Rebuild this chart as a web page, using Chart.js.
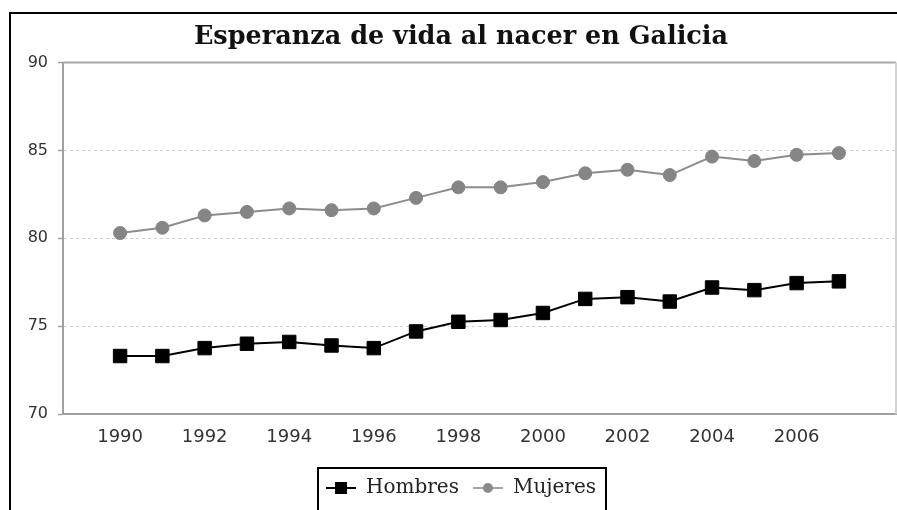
<!DOCTYPE html>
<html lang="es">
<head>
  <meta charset="UTF-8">
  <title>Esperanza de vida al nacer en Galicia</title>
  <script src="https://cdn.jsdelivr.net/npm/chart.js"></script>
  <style>
    html, body {
      margin: 0;
      padding: 0;
      background: #fff;
      overflow: hidden;
    }

    .frame {
      position: absolute;
      left: 9px;
      top: 12px;
      width: 900px;
      height: 506px;
      border: 2px solid #000;
      background: #fff;
    }
  </style>
</head>
<body>

  <div class="frame">
    <canvas id="lifeChart" width="900" height="506"></canvas>
  </div>

  <script>
    const years = [1990, 1991, 1992, 1993, 1994, 1995, 1996, 1997, 1998,
                   1999, 2000, 2001, 2002, 2003, 2004, 2005, 2006, 2007];
    const hombres = [73.3, 73.3, 73.75, 74.0, 74.1, 73.9, 73.75, 74.7, 75.25,
                     75.35, 75.75, 76.55, 76.65, 76.4, 77.2, 77.05, 77.45, 77.55];
    const mujeres = [80.3, 80.6, 81.3, 81.5, 81.7, 81.6, 81.7, 82.3, 82.9,
                     82.9, 83.2, 83.7, 83.9, 83.6, 84.65, 84.4, 84.75, 84.85];
    const xTicks = [1990, 1992, 1994, 1996, 1998, 2000, 2002, 2004, 2006];
    const yTicks = [70, 75, 80, 85, 90];

    // marcadores de la leyenda: línea + símbolo
    function legendMarker(color, lineWidth, shape) {
      const c = document.createElement('canvas');
      c.width = 30;
      c.height = 14;
      const g = c.getContext('2d');
      g.strokeStyle = color;
      g.fillStyle = color;
      g.lineWidth = lineWidth;
      g.beginPath();
      g.moveTo(0, 7);
      g.lineTo(30, 7);
      g.stroke();
      if (shape === 'rect') {
        g.fillRect(9, 1, 12, 12);
      } else {
        g.beginPath();
        g.arc(15, 7, 5, 0, Math.PI * 2);
        g.fill();
      }
      return c;
    }
    const markers = [legendMarker('#000', 2, 'rect'), legendMarker('#8a8a8a', 1.5, 'circle')];

    // borde superior y derecho del área de trazado
    const plotFrame = {
      id: 'plotFrame',
      beforeDatasetsDraw(chart) {
        const { ctx, chartArea: a } = chart;
        ctx.save();
        ctx.lineWidth = 2;
        ctx.strokeStyle = '#a8a8a8';
        ctx.beginPath();
        ctx.moveTo(a.left, a.top);
        ctx.lineTo(a.right, a.top);
        ctx.stroke();
        ctx.strokeStyle = '#d2d2d2';
        ctx.beginPath();
        ctx.moveTo(a.right, a.top);
        ctx.lineTo(a.right, a.bottom);
        ctx.stroke();
        ctx.restore();
      }
    };

    // recuadro negro alrededor de la leyenda (cortado por abajo, como el original)
    const legendFrame = {
      id: 'legendFrame',
      afterDraw(chart) {
        const hb = chart.legend.legendHitBoxes;
        if (!hb || !hb.length) return;
        const left = Math.min(...hb.map(h => h.left)) - 8;
        const right = Math.max(...hb.map(h => h.left + h.width)) + 10;
        const top = hb[0].top - 10;
        const ctx = chart.ctx;
        ctx.save();
        ctx.lineWidth = 2;
        ctx.strokeStyle = '#000';
        ctx.strokeRect(left, top, right - left, chart.height + 20 - top);
        ctx.restore();
      }
    };

    const ctx = document.getElementById('lifeChart').getContext('2d');

    new Chart(ctx, {
      type: 'line',
      data: {
        datasets: [{
          label: 'Hombres',
          data: years.map((y, i) => ({ x: y, y: hombres[i] })),
          borderColor: '#000',
          borderWidth: 2,
          pointStyle: 'rect',
          pointRadius: 9.5,
          pointBackgroundColor: '#000',
          pointBorderColor: '#000',
          pointBorderWidth: 1,
          tension: 0
        }, {
          label: 'Mujeres',
          data: years.map((y, i) => ({ x: y, y: mujeres[i] })),
          borderColor: '#8c8c8c',
          borderWidth: 2,
          pointStyle: 'circle',
          pointRadius: 6.5,
          pointBackgroundColor: '#858585',
          pointBorderColor: '#858585',
          pointBorderWidth: 1,
          tension: 0
        }]
      },
      options: {
        responsive: false,
        animation: false,
        layout: { padding: { bottom: 12 } },
        scales: {
          x: {
            type: 'linear',
            min: 1988.65,
            max: 2008.35,
            afterBuildTicks: s => { s.ticks = xTicks.map(v => ({ value: v })); },
            afterFit: s => { s.height = 50; },
            grid: { display: false },
            border: { display: true, color: '#a0a0a0', width: 2 },
            ticks: {
              autoSkip: false,
              maxRotation: 0,
              padding: 5,
              color: '#333',
              font: { family: 'DejaVu Sans', size: 18 },
              callback: v => String(v)
            }
          },
          y: {
            min: 70,
            max: 90,
            afterBuildTicks: s => { s.ticks = yTicks.map(v => ({ value: v })); },
            afterFit: s => { s.width = 52; },
            grid: {
              color: c => (c.tick && (c.tick.value === 70 || c.tick.value === 90)) ? 'rgba(0,0,0,0)' : '#d0d0d0',
              lineWidth: 1,
              tickLength: 5,
              tickColor: '#a0a0a0',
              tickWidth: 1.5,
              tickBorderDash: []
            },
            border: { display: true, color: '#a0a0a0', width: 2, dash: [3, 3] },
            ticks: {
              padding: 10,
              color: '#333',
              font: { family: 'DejaVu Sans', size: 16 }
            }
          },
          right: {
            position: 'right',
            min: 70,
            max: 90,
            afterFit: s => { s.width = 15; },
            grid: { display: false },
            border: { display: false },
            ticks: { display: false }
          }
        },
        plugins: {
          title: {
            display: true,
            text: 'Esperanza de vida al nacer en Galicia',
            color: '#111',
            font: { family: 'DejaVu Serif', size: 25.5, weight: 'bold' },
            padding: { top: 8, bottom: 10 }
          },
          legend: {
            position: 'bottom',
            labels: {
              usePointStyle: true,
              pointStyleWidth: 30,
              padding: 14,
              color: '#222',
              font: { family: 'DejaVu Serif', size: 20 },
              generateLabels: chart => chart.data.datasets.map((ds, i) => ({
                text: ds.label,
                pointStyle: markers[i],
                datasetIndex: i,
                hidden: false,
                lineWidth: 0,
                fontColor: '#222'
              }))
            }
          },
          tooltip: { enabled: false }
        }
      },
      plugins: [plotFrame, legendFrame]
    });
  </script>

</body>
</html>
